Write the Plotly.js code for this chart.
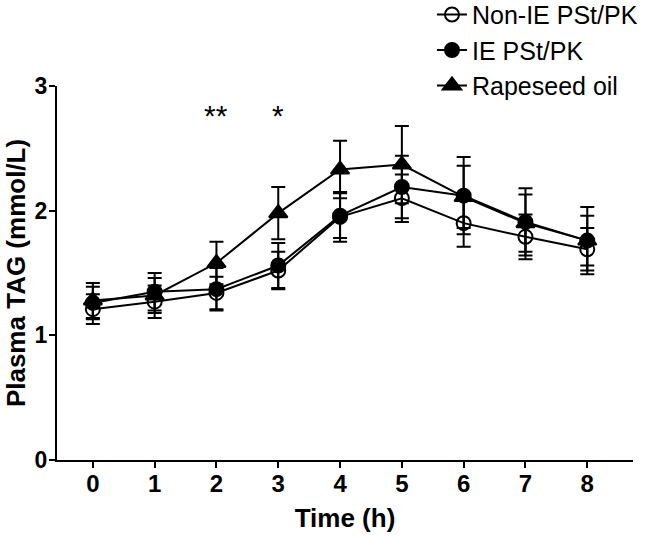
<!DOCTYPE html>
<html>
<head>
<meta charset="utf-8">
<script src="https://cdn.plot.ly/plotly-3.0.1.min.js"></script>
<style>html,body{margin:0;padding:0;background:#fff;}#chart{width:655px;height:539px;}</style>
</head>
<body>
<div id="chart"></div>
<script>
const timeH = [0, 1, 2, 3, 4, 5, 6, 7, 8];
const xTickLabels = ['0', '1', '2', '3', '4', '5', '6', '7', '8'];
const yTickValues = [0, 1, 2, 3];
const seriesNames = ['Non-IE PSt/PK', 'IE PSt/PK', 'Rapeseed oil'];
const nonIE = [1.21, 1.27, 1.34, 1.52, 1.95, 2.10, 1.90, 1.79, 1.69];
const nonIEsem = [0.12, 0.13, 0.13, 0.15, 0.20, 0.19, 0.19, 0.18, 0.17];
const ie = [1.26, 1.35, 1.37, 1.56, 1.96, 2.19, 2.12, 1.91, 1.76];
const ieSem = [0.13, 0.15, 0.17, 0.18, 0.18, 0.25, 0.31, 0.27, 0.27];
const rapeseed = [1.28, 1.32, 1.58, 1.98, 2.33, 2.37, 2.11, 1.90, 1.76];
const rapeseedSem = [0.14, 0.14, 0.17, 0.21, 0.23, 0.31, 0.25, 0.23, 0.20];
const sigTimes = [2, 3];
const sigLabels = ['**', '*'];
const sigY = 2.76;

const FONT = 'Liberation Sans, Arial, sans-serif';
function trace(name, y, sem, symbol, size) {
  return {
    x: timeH, y: y, name: name, type: 'scatter', mode: 'lines+markers',
    line: {color: '#000', width: 2},
    marker: {symbol: symbol, size: size, color: '#000', line: {color: '#000', width: 2}},
    error_y: {type: 'data', array: sem, visible: true, color: '#000', thickness: 2, width: 7}
  };
}
const data = [
  trace(seriesNames[0], nonIE, nonIEsem, 'circle-open', 14),
  trace(seriesNames[1], ie, ieSem, 'circle', 14),
  trace(seriesNames[2], rapeseed, rapeseedSem, 'triangle-up', 16)
];
const annotations = sigTimes.map((t, i) => ({
  x: t, y: sigY, xref: 'x', yref: 'y', text: sigLabels[i], showarrow: false,
  font: {family: FONT, size: 30, color: '#000'}, yanchor: 'middle'
}));
const layout = {
  width: 655, height: 539,
  margin: {l: 57, r: 22, t: 86, b: 79, autoexpand: false},
  paper_bgcolor: '#fff', plot_bgcolor: '#fff',
  showlegend: true,
  legend: {x: 0.651, y: 1.252, xanchor: 'left', yanchor: 'top', tracegroupgap: 0,
    font: {family: FONT, size: 25, color: '#000'}, bgcolor: 'rgba(0,0,0,0)'},
  xaxis: {
    range: [-0.58, 8.74], tickvals: timeH, ticktext: xTickLabels,
    showline: true, linecolor: '#000', linewidth: 2, zeroline: false, showgrid: false,
    ticks: 'outside', ticklen: 6, tickwidth: 2, tickcolor: '#000',
    ticklabelstandoff: -5,
    tickfont: {family: FONT, size: 24, color: '#000', weight: 'bold'},
    title: {text: 'Time (h)', font: {family: FONT, size: 26, color: '#000', weight: 'bold'}, standoff: 13}
  },
  yaxis: {
    range: [0, 3], tickvals: yTickValues,
    showline: true, linecolor: '#000', linewidth: 2, zeroline: false, showgrid: false,
    ticks: 'outside', ticklen: 6, tickwidth: 2, tickcolor: '#000',
    ticklabelstandoff: -3,
    tickfont: {family: FONT, size: 23, color: '#000', weight: 'bold'},
    title: {text: 'Plasma TAG (mmol/L)', font: {family: FONT, size: 26, color: '#000', weight: 'bold'}, standoff: 2}
  },
  annotations: annotations
};
Plotly.newPlot('chart', data, layout, {displayModeBar: false, staticPlot: true});
</script>
</body>
</html>
